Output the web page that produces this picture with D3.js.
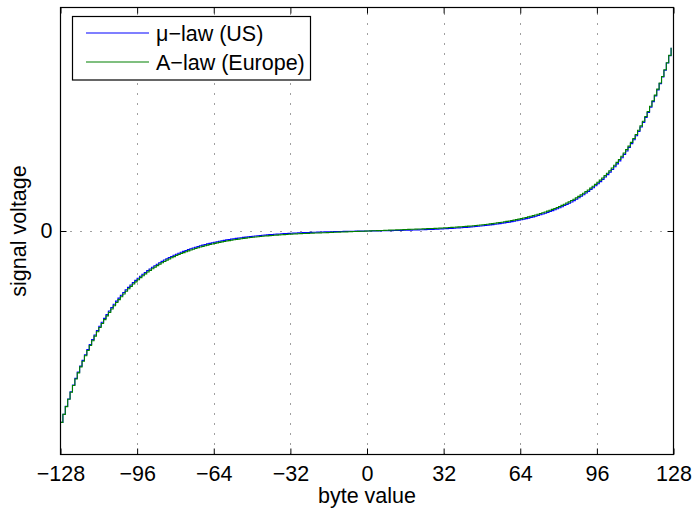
<!DOCTYPE html>
<html>
<head>
<meta charset="utf-8">
<script src="https://cdn.jsdelivr.net/npm/d3@7"></script>
<style>
  html, body { margin: 0; padding: 0; background: #fff; }
  svg { display: block; font-family: "Liberation Sans", Arial, Helvetica, sans-serif; }
</style>
</head>
<body>
<div id="chart"></div>
<script>
// byte value axis: -128 .. 127
const byteValues = d3.range(-128, 128);

// mu-law (US) decoded signal, one value per byte value
const muLaw = [
  -1, -0.9574, -0.9167, -0.8776, -0.8403, -0.8045, -0.7702, -0.7374, -0.7060, -0.6759, -0.6470, -0.6194, -0.5930, -0.5677, -0.5435, -0.5203,
  -0.4980, -0.4768, -0.4564, -0.4369, -0.4182, -0.4003, -0.3831, -0.3667, -0.3510, -0.3360, -0.3216, -0.3078, -0.2945, -0.2819, -0.2698, -0.2582,
  -0.2471, -0.2364, -0.2262, -0.2165, -0.2071, -0.1982, -0.1896, -0.1814, -0.1735, -0.1660, -0.1588, -0.1519, -0.1453, -0.1390, -0.1329, -0.1271,
  -0.1216, -0.1162, -0.1112, -0.1063, -0.1016, -0.0971, -0.0928, -0.0887, -0.0848, -0.0811, -0.0774, -0.0740, -0.0707, -0.0675, -0.0645, -0.0616,
  -0.0588, -0.0562, -0.0536, -0.0512, -0.0488, -0.0466, -0.0445, -0.0424, -0.0404, -0.0386, -0.0368, -0.0350, -0.0334, -0.0318, -0.0303, -0.0288,
  -0.0275, -0.0261, -0.0248, -0.0236, -0.0225, -0.0213, -0.0203, -0.0192, -0.0183, -0.0173, -0.0164, -0.0156, -0.0147, -0.0139, -0.0132, -0.0125,
  -0.0118, -0.0111, -0.0105, -0.0099, -0.0093, -0.0087, -0.0082, -0.0077, -0.0072, -0.0067, -0.0062, -0.0058, -0.0054, -0.0050, -0.0046, -0.0043,
  -0.0039, -0.0036, -0.0033, -0.0030, -0.0027, -0.0024, -0.0021, -0.0019, -0.0016, -0.0014, -0.0012, -0.0009, -0.0007, -0.0005, -0.0004, -0.0002,
  0, 0.0002, 0.0004, 0.0005, 0.0007, 0.0009, 0.0012, 0.0014, 0.0016, 0.0019, 0.0021, 0.0024, 0.0027, 0.0030, 0.0033, 0.0036,
  0.0039, 0.0043, 0.0046, 0.0050, 0.0054, 0.0058, 0.0062, 0.0067, 0.0072, 0.0077, 0.0082, 0.0087, 0.0093, 0.0099, 0.0105, 0.0111,
  0.0118, 0.0125, 0.0132, 0.0139, 0.0147, 0.0156, 0.0164, 0.0173, 0.0183, 0.0192, 0.0203, 0.0213, 0.0225, 0.0236, 0.0248, 0.0261,
  0.0275, 0.0288, 0.0303, 0.0318, 0.0334, 0.0350, 0.0368, 0.0386, 0.0404, 0.0424, 0.0445, 0.0466, 0.0488, 0.0512, 0.0536, 0.0562,
  0.0588, 0.0616, 0.0645, 0.0675, 0.0707, 0.0740, 0.0774, 0.0811, 0.0848, 0.0887, 0.0928, 0.0971, 0.1016, 0.1063, 0.1112, 0.1162,
  0.1216, 0.1271, 0.1329, 0.1390, 0.1453, 0.1519, 0.1588, 0.1660, 0.1735, 0.1814, 0.1896, 0.1982, 0.2071, 0.2165, 0.2262, 0.2364,
  0.2471, 0.2582, 0.2698, 0.2819, 0.2945, 0.3078, 0.3216, 0.3360, 0.3510, 0.3667, 0.3831, 0.4003, 0.4182, 0.4369, 0.4564, 0.4768,
  0.4980, 0.5203, 0.5435, 0.5677, 0.5930, 0.6194, 0.6470, 0.6759, 0.7060, 0.7374, 0.7702, 0.8045, 0.8403, 0.8776, 0.9167, 0.9574
];

// A-law (Europe) decoded signal
const aLaw = [
  -1, -0.9581, -0.9180, -0.8796, -0.8428, -0.8075, -0.7737, -0.7413, -0.7103, -0.6806, -0.6521, -0.6248, -0.5987, -0.5736, -0.5496, -0.5266,
  -0.5045, -0.4834, -0.4632, -0.4438, -0.4252, -0.4074, -0.3904, -0.3740, -0.3584, -0.3434, -0.3290, -0.3152, -0.3020, -0.2894, -0.2773, -0.2657,
  -0.2546, -0.2439, -0.2337, -0.2239, -0.2145, -0.2056, -0.1970, -0.1887, -0.1808, -0.1733, -0.1660, -0.1591, -0.1524, -0.1460, -0.1399, -0.1341,
  -0.1284, -0.1231, -0.1179, -0.1130, -0.1083, -0.1037, -0.0994, -0.0952, -0.0912, -0.0874, -0.0838, -0.0803, -0.0769, -0.0737, -0.0706, -0.0676,
  -0.0648, -0.0621, -0.0595, -0.0570, -0.0546, -0.0523, -0.0501, -0.0480, -0.0460, -0.0441, -0.0423, -0.0405, -0.0388, -0.0372, -0.0356, -0.0341,
  -0.0327, -0.0313, -0.0300, -0.0288, -0.0276, -0.0264, -0.0253, -0.0242, -0.0232, -0.0223, -0.0213, -0.0204, -0.0196, -0.0188, -0.0180, -0.0172,
  -0.0165, -0.0158, -0.0151, -0.0145, -0.0139, -0.0133, -0.0128, -0.0122, -0.0117, -0.0112, -0.0107, -0.0102, -0.0098, -0.0093, -0.0088, -0.0083,
  -0.0078, -0.0073, -0.0068, -0.0063, -0.0059, -0.0054, -0.0049, -0.0044, -0.0039, -0.0034, -0.0029, -0.0024, -0.0020, -0.0015, -0.0010, -0.0005,
  0, 0.0005, 0.0010, 0.0015, 0.0020, 0.0024, 0.0029, 0.0034, 0.0039, 0.0044, 0.0049, 0.0054, 0.0059, 0.0063, 0.0068, 0.0073,
  0.0078, 0.0083, 0.0088, 0.0093, 0.0098, 0.0102, 0.0107, 0.0112, 0.0117, 0.0122, 0.0128, 0.0133, 0.0139, 0.0145, 0.0151, 0.0158,
  0.0165, 0.0172, 0.0180, 0.0188, 0.0196, 0.0204, 0.0213, 0.0223, 0.0232, 0.0242, 0.0253, 0.0264, 0.0276, 0.0288, 0.0300, 0.0313,
  0.0327, 0.0341, 0.0356, 0.0372, 0.0388, 0.0405, 0.0423, 0.0441, 0.0460, 0.0480, 0.0501, 0.0523, 0.0546, 0.0570, 0.0595, 0.0621,
  0.0648, 0.0676, 0.0706, 0.0737, 0.0769, 0.0803, 0.0838, 0.0874, 0.0912, 0.0952, 0.0994, 0.1037, 0.1083, 0.1130, 0.1179, 0.1231,
  0.1284, 0.1341, 0.1399, 0.1460, 0.1524, 0.1591, 0.1660, 0.1733, 0.1808, 0.1887, 0.1970, 0.2056, 0.2145, 0.2239, 0.2337, 0.2439,
  0.2546, 0.2657, 0.2773, 0.2894, 0.3020, 0.3152, 0.3290, 0.3434, 0.3584, 0.3740, 0.3904, 0.4074, 0.4252, 0.4438, 0.4632, 0.4834,
  0.5045, 0.5266, 0.5496, 0.5736, 0.5987, 0.6248, 0.6521, 0.6806, 0.7103, 0.7413, 0.7737, 0.8075, 0.8428, 0.8796, 0.9180, 0.9581
];

const xTicks = [-128, -96, -64, -32, 0, 32, 64, 96, 128];
const yTicks = [0];
const seriesNames = ["\u03bc\u2212law (US)", "A\u2212law (Europe)"];
const seriesColors = ["#0000ff", "#008000"];

document.addEventListener("DOMContentLoaded", function () {
  const width = 693,
    height = 512;
  const left = 60.5,
    right = 673.5,
    top = 7.5,
    bottom = 454.5;
  const fontSize = 21.5;

  const svg = d3
    .select("#chart")
    .append("svg")
    .attr("width", width)
    .attr("height", height);

  // scales
  const x = d3.scaleLinear().domain([-128, 128]).range([left, right]);
  const y = d3.scaleLinear().domain([-1.168, 1.168]).range([bottom, top]);

  // dotted grid
  svg
    .append("g")
    .selectAll("line.vgrid")
    .data(xTicks.slice(1, -1))
    .enter()
    .append("line")
    .attr("x1", (d) => Math.round(x(d)) + 0.5)
    .attr("x2", (d) => Math.round(x(d)) + 0.5)
    .attr("y1", bottom)
    .attr("y2", top)
    .attr("stroke", "#000")
    .attr("stroke-opacity", 0.75)
    .attr("stroke-dasharray", "1,9");

  svg
    .append("g")
    .selectAll("line.hgrid")
    .data(yTicks)
    .enter()
    .append("line")
    .attr("x1", left)
    .attr("x2", right)
    .attr("y1", (d) => Math.round(y(d)) + 0.5)
    .attr("y2", (d) => Math.round(y(d)) + 0.5)
    .attr("stroke", "#000")
    .attr("stroke-opacity", 0.75)
    .attr("stroke-dasharray", "1,9");

  // curves (stairs)
  const stairs = d3
    .line()
    .x((d) => x(d[0]))
    .y((d) => y(d[1]))
    .curve(d3.curveStepAfter);

  [muLaw, aLaw].forEach((vals, i) => {
    svg
      .append("path")
      .attr("d", stairs(byteValues.map((b, j) => [b, vals[j]])))
      .attr("fill", "none")
      .attr("stroke", seriesColors[i])
      .attr("stroke-width", 1.1);
  });

  // axes
  const fmt = (d) => (d < 0 ? "\u2212" + Math.abs(d) : String(d));

  const xAxis = svg
    .append("g")
    .attr("transform", `translate(0,${bottom})`)
    .call(d3.axisBottom(x).tickValues(xTicks).tickSizeInner(-6).tickSizeOuter(0).tickPadding(11).tickFormat(fmt));

  const xAxisTop = svg
    .append("g")
    .attr("transform", `translate(0,${top})`)
    .call(d3.axisTop(x).tickValues(xTicks).tickSizeInner(-6).tickSizeOuter(0).tickFormat(""));

  const yAxis = svg
    .append("g")
    .attr("transform", `translate(${left},0)`)
    .call(d3.axisLeft(y).tickValues(yTicks).tickSizeInner(-6).tickSizeOuter(0).tickPadding(8).tickFormat(fmt));

  const yAxisRight = svg
    .append("g")
    .attr("transform", `translate(${right},0)`)
    .call(d3.axisRight(y).tickValues(yTicks).tickSizeInner(-6).tickSizeOuter(0).tickFormat(""));

  [xAxis, xAxisTop, yAxis, yAxisRight].forEach((g) => {
    g.select(".domain").remove();
    g.selectAll(".tick line").attr("stroke", "#000");
    g.selectAll("text")
      .attr("fill", "#000")
      .style("font-size", fontSize + "px")
      .style("font-family", '"Liberation Sans", Arial, sans-serif');
  });

  // axes box
  svg
    .append("rect")
    .attr("x", left)
    .attr("y", top)
    .attr("width", right - left)
    .attr("height", bottom - top)
    .attr("fill", "none")
    .attr("stroke", "#000")
    .attr("stroke-width", 1.2);

  // axis labels
  svg
    .append("text")
    .attr("x", (left + right) / 2)
    .attr("y", 503)
    .attr("text-anchor", "middle")
    .style("font-size", fontSize + "px")
    .text("byte value");

  svg
    .append("text")
    .attr("transform", `translate(26,${(top + bottom) / 2}) rotate(-90)`)
    .attr("text-anchor", "middle")
    .style("font-size", fontSize + "px")
    .text("signal voltage");

  // legend
  const legend = svg.append("g");
  legend
    .append("rect")
    .attr("x", 72.5)
    .attr("y", 16.5)
    .attr("width", 238)
    .attr("height", 63.5)
    .attr("fill", "#fff")
    .attr("stroke", "#000")
    .attr("stroke-width", 1.2);

  seriesNames.forEach((name, i) => {
    const ly = 33 + i * 29;
    legend
      .append("line")
      .attr("x1", 86)
      .attr("x2", 149)
      .attr("y1", ly)
      .attr("y2", ly)
      .attr("stroke", seriesColors[i])
      .attr("stroke-width", 1.1);
    legend
      .append("text")
      .attr("x", 156)
      .attr("y", ly + 8)
      .style("font-size", fontSize + "px")
      .text(name);
  });
});
</script>
</body>
</html>
